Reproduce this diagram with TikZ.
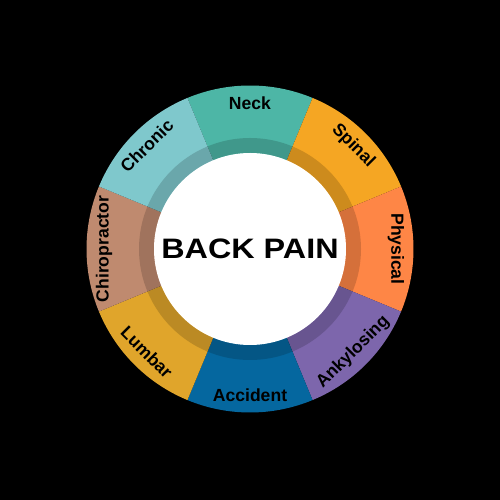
\documentclass[tikz,border=0pt]{standalone}
\usepackage{fontspec}
\setsansfont{Liberation Sans}
\usetikzlibrary{positioning}
\definecolor{neckcol}{HTML}{4DB6A6}
\definecolor{spinalcol}{HTML}{F5A623}
\definecolor{physicalcol}{HTML}{FE8646}
\definecolor{ankylosingcol}{HTML}{7D66AC}
\definecolor{accidentcol}{HTML}{05679F}
\definecolor{lumbarcol}{HTML}{E0A52B}
\definecolor{chirocol}{HTML}{BF8A6F}
\definecolor{chroniccol}{HTML}{7FC8CC}

\begin{document}
\begin{tikzpicture}[font=\sffamily,
    seglabel/.style={font=\sffamily\bfseries\fontsize{10}{12}\selectfont,
        text=black, inner sep=0pt},
    titlelabel/.style={font=\sffamily\bfseries\fontsize{16}{18}\selectfont,
        text=black, xscale=1.15}]
    % background and size
    \fill[black] (-5,-5.02) rectangle (5,4.98);
    \useasboundingbox (-5,-5.02) rectangle (5,4.98);
    % the eight segments
    \fill[neckcol] (0,0) -- (67.5:3.27)
        arc[start angle=67.5, end angle=112.5, radius=3.27] -- cycle;
    \fill[spinalcol] (0,0) -- (22.5:3.27)
        arc[start angle=22.5, end angle=67.5, radius=3.27] -- cycle;
    \fill[physicalcol] (0,0) -- (-22.5:3.27)
        arc[start angle=-22.5, end angle=22.5, radius=3.27] -- cycle;
    \fill[ankylosingcol] (0,0) -- (-67.5:3.27)
        arc[start angle=-67.5, end angle=-22.5, radius=3.27] -- cycle;
    \fill[accidentcol] (0,0) -- (-112.5:3.27)
        arc[start angle=-112.5, end angle=-67.5, radius=3.27] -- cycle;
    \fill[lumbarcol] (0,0) -- (-157.5:3.27)
        arc[start angle=-157.5, end angle=-112.5, radius=3.27] -- cycle;
    \fill[chirocol] (0,0) -- (157.5:3.27)
        arc[start angle=157.5, end angle=202.5, radius=3.27] -- cycle;
    \fill[chroniccol] (0,0) -- (112.5:3.27)
        arc[start angle=112.5, end angle=157.5, radius=3.27] -- cycle;
    % darker inner band
    \fill[black, opacity=.16, even odd rule] (0,0) circle (2.22) (0,0) circle (1.92);
    % centre
    \node[circle, fill=white, minimum size=3.84cm, inner sep=0pt] (core) at (0,0) {};
    \node[titlelabel] (title) at (core) {BACK PAIN};
    % labels
    \node[seglabel] (neck) at (90:2.92) {Neck};
    \node[seglabel, rotate=-45] (spinal) at (45:2.92) {Spinal};
    \node[seglabel, rotate=-90] (physical) at (0:2.92) {Physical};
    \node[seglabel, rotate=45] (ankylosing) at (-45:2.92) {Ankylosing};
    \node[seglabel] (accident) at (-90:2.92) {Accident};
    \node[seglabel, rotate=-45] (lumbar) at (-135:2.92) {Lumbar};
    \node[seglabel, rotate=90] (chiropractor) at (180:2.92) {Chiropractor};
    \node[seglabel, rotate=45] (chronic) at (135:2.92) {Chronic};
\end{tikzpicture}
\end{document}
